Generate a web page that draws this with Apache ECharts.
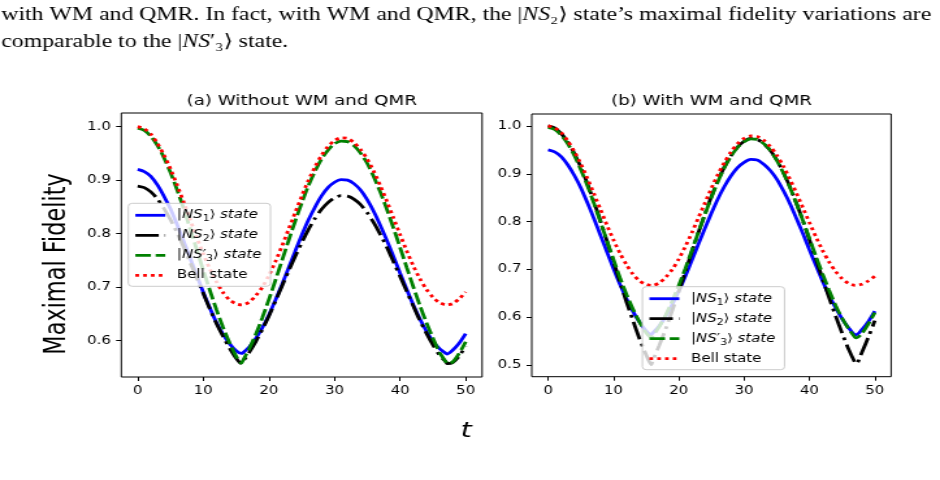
<!DOCTYPE html>
<html><head><meta charset="utf-8">
<script src="https://cdn.jsdelivr.net/npm/echarts@6/dist/echarts.min.js"></script>
<style>
html,body{margin:0;padding:0;background:#fff;overflow:hidden;}
#main{width:723px;height:480px;transform:scaleX(1.30014);transform-origin:0 0;}
</style></head><body><div id="main"></div>
<script>
// time samples (shared by all curves)
const tValues = [0,1,2,3,4,5,6,7,8,9,10,11,12,13,14,15,15.8,16,17,18,19,20,21,22,23,24,25,26,27,28,29,30,31,32,33,34,35,36,37,38,39,40,41,42,43,44,45,46,47,47.2,48,49,50];

// (a) Without WM and QMR
const ns1A = [0.920,0.916,0.907,0.891,0.870,0.846,0.817,0.786,0.754,0.722,0.690,0.661,0.634,0.612,0.594,0.581,0.576,0.577,0.588,0.604,0.624,0.648,0.676,0.705,0.736,0.767,0.797,0.825,0.849,0.870,0.886,0.896,0.901,0.900,0.893,0.881,0.863,0.841,0.815,0.787,0.757,0.726,0.696,0.667,0.641,0.618,0.599,0.585,0.576,0.575,0.582,0.595,0.613];
const ns2A = [0.889,0.886,0.878,0.865,0.847,0.826,0.802,0.775,0.746,0.717,0.688,0.659,0.632,0.608,0.586,0.567,0.557,0.560,0.578,0.598,0.621,0.646,0.674,0.702,0.730,0.757,0.783,0.807,0.828,0.845,0.858,0.867,0.871,0.870,0.864,0.854,0.839,0.820,0.798,0.774,0.747,0.720,0.692,0.665,0.638,0.614,0.592,0.573,0.560,0.557,0.559,0.571,0.590];
const ns3A = [0.997,0.993,0.982,0.965,0.942,0.914,0.882,0.847,0.809,0.770,0.731,0.694,0.658,0.625,0.596,0.571,0.558,0.562,0.585,0.612,0.643,0.677,0.713,0.750,0.787,0.823,0.857,0.889,0.916,0.939,0.956,0.968,0.973,0.972,0.964,0.950,0.931,0.906,0.877,0.845,0.810,0.774,0.737,0.701,0.666,0.634,0.605,0.578,0.560,0.557,0.560,0.576,0.598];
const bellA = [1.000,0.996,0.986,0.969,0.947,0.921,0.891,0.859,0.826,0.793,0.762,0.734,0.710,0.690,0.676,0.669,0.667,0.667,0.672,0.684,0.700,0.722,0.748,0.777,0.808,0.839,0.870,0.899,0.924,0.946,0.963,0.974,0.979,0.978,0.970,0.957,0.939,0.916,0.889,0.860,0.829,0.798,0.768,0.740,0.716,0.696,0.681,0.671,0.667,0.667,0.669,0.678,0.691];

// (b) With WM and QMR
const ns1B = [0.950,0.946,0.936,0.919,0.897,0.871,0.840,0.807,0.772,0.737,0.702,0.669,0.639,0.612,0.590,0.572,0.564,0.567,0.582,0.602,0.627,0.655,0.686,0.719,0.753,0.786,0.818,0.848,0.874,0.896,0.913,0.924,0.930,0.929,0.920,0.907,0.889,0.865,0.838,0.807,0.775,0.741,0.708,0.676,0.646,0.620,0.597,0.578,0.564,0.564,0.574,0.591,0.613];
const ns2B = [1.000,0.996,0.984,0.967,0.943,0.914,0.880,0.842,0.802,0.760,0.717,0.674,0.632,0.593,0.555,0.522,0.501,0.509,0.541,0.576,0.614,0.654,0.695,0.737,0.777,0.816,0.853,0.886,0.915,0.938,0.956,0.968,0.974,0.972,0.963,0.949,0.929,0.903,0.873,0.839,0.802,0.762,0.722,0.681,0.641,0.603,0.567,0.533,0.505,0.503,0.526,0.558,0.593];
const ns3B = [0.997,0.993,0.981,0.963,0.939,0.909,0.876,0.839,0.800,0.760,0.721,0.683,0.648,0.617,0.590,0.568,0.558,0.561,0.580,0.605,0.634,0.667,0.702,0.740,0.778,0.815,0.851,0.884,0.913,0.937,0.955,0.967,0.973,0.972,0.963,0.949,0.928,0.902,0.872,0.838,0.802,0.765,0.727,0.691,0.657,0.625,0.598,0.576,0.558,0.557,0.566,0.586,0.610];
const bellB = [1.000,0.996,0.986,0.969,0.947,0.921,0.891,0.859,0.826,0.793,0.762,0.734,0.710,0.690,0.676,0.669,0.667,0.667,0.672,0.684,0.700,0.722,0.748,0.777,0.808,0.839,0.870,0.899,0.924,0.946,0.963,0.974,0.979,0.978,0.970,0.957,0.939,0.916,0.889,0.860,0.829,0.798,0.768,0.740,0.716,0.696,0.681,0.671,0.667,0.667,0.669,0.676,0.686];

// tick labels
const xTicks = [0,10,20,30,40,50];
const yTicksA = [0.6,0.7,0.8,0.9,1.0];
const yTicksB = [0.5,0.6,0.7,0.8,0.9,1.0];

const titleA = '(a) Without WM and QMR';
const titleB = '(b) With WM and QMR';
const yName = 'Maximal Fidelity';
const xName = 't';

const legendText = {
  ns1A: '{m||}{i|NS}{s|1}{m|⟩ }{i|state}',
  ns2A: '{m||}{i|NS}{s|2}{m|⟩ }{i|state}',
  ns3A: '{m||}{i|NS}{m|′}{s|3}{m|⟩ }{i|state}',
  bellA: '{m|Bell state}',
  ns1B: '{m||}{i|NS}{s|1}{m|⟩ }{i|state}',
  ns2B: '{m||}{i|NS}{s|2}{m|⟩ }{i|state}',
  ns3B: '{m||}{i|NS}{m|′}{s|3}{m|⟩ }{i|state}',
  bellB: '{m|Bell state}'
};

const FONT = "'DejaVu Sans', sans-serif";
const pairs = arr => tValues.map((t, i) => [t, arr[i]]);

const styles = {
  ns1: {color: '#0000ff', type: 'solid'},
  ns2: {color: '#000000', type: [18, 4.6, 2.8, 4.6]},
  ns3: {color: '#008000', type: [12, 3.6]},
  bell: {color: '#ff0000', type: [2.8, 3.2]}
};

function mkSeries(name, arr, key, idx) {
  const s = styles[key];
  return {
    name: name, type: 'line', xAxisIndex: idx, yAxisIndex: idx,
    data: pairs(arr), symbol: 'none', showSymbol: false, smooth: 0.25,
    color: s.color,
    lineStyle: {color: s.color, width: 2.8, type: s.type, cap: 'butt'},
    emphasis: {disabled: true}, z: 2
  };
}

function mkX(idx) {
  return {
    type: 'value', gridIndex: idx, min: -2.5, max: 52.5,
    axisLine: {show: false, onZero: false}, splitLine: {show: false},
    axisTick: {show: true, length: 4, customValues: xTicks, lineStyle: {color: '#000', width: 1}},
    axisLabel: {customValues: xTicks, margin: 8, fontFamily: FONT, fontSize: 11.5, color: '#000'}
  };
}
function mkY(idx, mn, mx, ticks) {
  return {
    type: 'value', gridIndex: idx, min: mn, max: mx,
    axisLine: {show: false, onZero: false}, splitLine: {show: false},
    axisTick: {show: true, length: 4, customValues: ticks, lineStyle: {color: '#000', width: 1}},
    axisLabel: {customValues: ticks, margin: 8, fontFamily: FONT, fontSize: 11.5, color: '#000',
      formatter: v => Number(v).toFixed(1)}
  };
}
function mkLegend(left, top, names) {
  return {
    orient: 'vertical', left: left, top: top, itemWidth: 23, itemHeight: 12, itemGap: 4,
    padding: [4, 7, 3, 4], backgroundColor: 'rgba(255,255,255,0.8)',
    borderColor: '#cccccc', borderWidth: 1, borderRadius: 3, selectedMode: false,
    itemStyle: {opacity: 0},
    lineStyle: {width: 2.8},
    data: names, formatter: n => legendText[n],
    textStyle: {fontFamily: FONT, fontSize: 11.5, color: '#000', padding: [0, 0, 0, 4], lineHeight: 16,
      rich: {
        m: {fontFamily: FONT, fontSize: 11.5, color: '#000', lineHeight: 16},
        i: {fontFamily: FONT, fontSize: 11.5, fontStyle: 'italic', color: '#000', lineHeight: 16},
        s: {fontFamily: FONT, fontSize: 8.3, color: '#000', lineHeight: 16, verticalAlign: 'bottom'}
      }}
  };
}

function txt(x, y, text, font) {
  return {
    type: 'text', x: x, y: y, silent: true,
    style: {text: text, x: 0, y: 0, font: font, fill: '#000',
      align: 'center', verticalAlign: 'middle', textAlign: 'center', textVerticalAlign: 'middle'}
  };
}

const serif = "18.3px 'Liberation Serif', 'DejaVu Serif', serif";
const serifRich = {it: {fontFamily: "'Liberation Serif', 'DejaVu Serif', serif", fontStyle: 'italic', fontSize: 18.3, fill: '#000'}};

const option = {
  animation: false,
  backgroundColor: '#fff',
  grid: [
    {left: 93.3, top: 113, width: 277.5, height: 264, show: true, borderColor: '#000', borderWidth: 1, backgroundColor: 'transparent'},
    {left: 409.0, top: 114, width: 276.4, height: 262.7, show: true, borderColor: '#000', borderWidth: 1, backgroundColor: 'transparent'}
  ],
  xAxis: [mkX(0), mkX(1)],
  yAxis: [mkY(0, 0.532, 1.0255, yTicksA), mkY(1, 0.476, 1.025, yTicksB)],
  legend: [
    mkLegend(98.7, 203.3, ['ns1A', 'ns2A', 'ns3A', 'bellA']),
    mkLegend(494.1, 286.7, ['ns1B', 'ns2B', 'ns3B', 'bellB'])
  ],
  series: [
    mkSeries('ns1A', ns1A, 'ns1', 0),
    mkSeries('ns2A', ns2A, 'ns2', 0),
    mkSeries('ns3A', ns3A, 'ns3', 0),
    mkSeries('bellA', bellA, 'bell', 0),
    mkSeries('ns1B', ns1B, 'ns1', 1),
    mkSeries('ns2B', ns2B, 'ns2', 1),
    mkSeries('ns3B', ns3B, 'ns3', 1),
    mkSeries('bellB', bellB, 'bell', 1)
  ],
  graphic: [
    txt(232.1, 101.5, titleA, "14px 'DejaVu Sans'"),
    txt(547.2, 101.5, titleB, "14px 'DejaVu Sans'"),
    Object.assign(txt(43.8, 264, yName, "22.4px 'DejaVu Sans'"), {rotation: Math.PI / 2}),
    txt(358.5, 431, xName, "italic 22px 'DejaVu Sans'"),
    {type: 'text', x: 1, y: 15, silent: true, style: {
      text: 'with WM and QMR. In fact, with WM and QMR, the |{it|NS}₂⟩ state’s maximal fidelity variations are',
      font: serif, fill: '#000', align: 'left', verticalAlign: 'middle', textAlign: 'left', textVerticalAlign: 'middle', rich: serifRich}},
    {type: 'text', x: 1, y: 42, silent: true, style: {
      text: 'comparable to the |{it|NS}′₃⟩ state.',
      font: serif, fill: '#000', align: 'left', verticalAlign: 'middle', textAlign: 'left', textVerticalAlign: 'middle', rich: serifRich}}
  ]
};

const chart = echarts.init(document.getElementById('main'));
chart.setOption(option);
</script></body></html>
